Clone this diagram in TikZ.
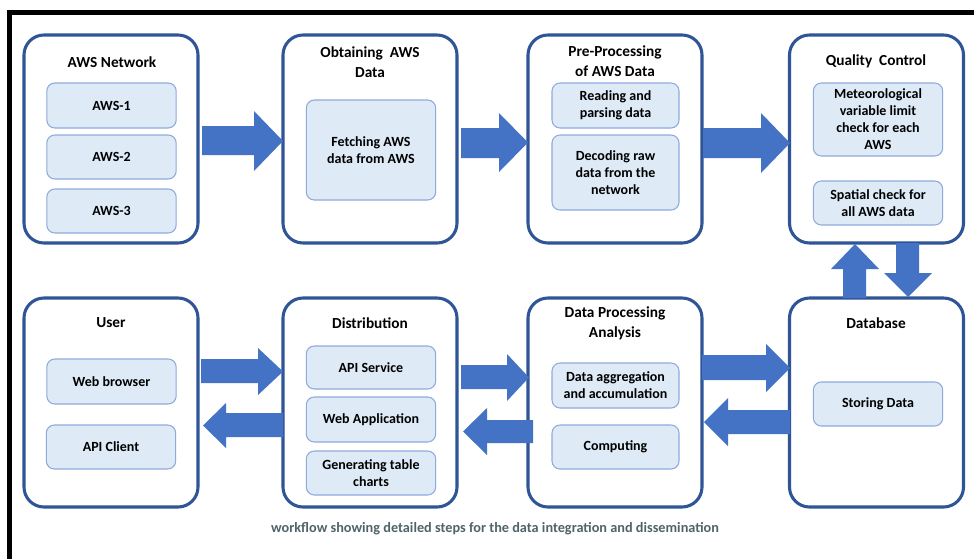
\documentclass[tikz,border=0pt]{standalone}
\usepackage{fontspec}
\setmainfont{Carlito}
\definecolor{outerblue}{HTML}{2F5597}
\definecolor{innerfill}{HTML}{DEEBF7}
\definecolor{innerline}{HTML}{8FAADC}
\definecolor{arrowblue}{HTML}{4472C4}
\definecolor{captioncol}{HTML}{506468}
\newcommand{\harrow}[7]{% tail x, tip x, head base x, shaft top, shaft bottom, head top, head bottom
  \fill[arrowblue] (#1,#4) -- (#3,#4) -- (#3,#6) -- (#2,{(#6+#7)/2}) -- (#3,#7) -- (#3,#5) -- (#1,#5) -- cycle;}
\newcommand{\varrow}[7]{% tail y, tip y, head base y, shaft left, shaft right, head left, head right
  \fill[arrowblue] (#4,#1) -- (#4,#3) -- (#6,#3) -- ({(#6+#7)/2},#2) -- (#7,#3) -- (#5,#3) -- (#5,#1) -- cycle;}
\begin{document}
\begin{tikzpicture}[x=0.75pt,y=-0.75pt,
  outerbox/.style={draw=outerblue,line width=2.3pt,rounded corners=15pt,fill=white,
    inner sep=0pt,minimum width=130.5pt,minimum height=156pt},
  innerbox/.style={draw=innerline,line width=0.8pt,rounded corners=6pt,fill=innerfill,
    inner sep=0pt,minimum width=97pt,align=center,
    font=\fontsize{10.5pt}{12.75pt}\selectfont\bfseries},
  titletext/.style={align=center,inner sep=0pt,font=\fontsize{11.5pt}{15pt}\selectfont\bfseries}]
\useasboundingbox (0,0) rectangle (974,558);
\fill[white] (0,0) rectangle (974,558);
% frame
\draw[line width=3.2pt,line cap=rect] (9.5,558) -- (9.5,12.5) -- (980,12.5);
% outer boxes row 1
\node[outerbox] (net) at (111,139) {};
\node[outerbox] (obt) at (370,139) {};
\node[outerbox] (pre) at (615,139) {};
\node[outerbox] (qc) at (876.5,139) {};
% outer boxes row 2
\node[outerbox,minimum height=156.75pt] (user) at (111,402.5) {};
\node[outerbox,minimum height=156.75pt] (dist) at (370,402.5) {};
\node[outerbox,minimum height=156.75pt] (dpa) at (615,402.5) {};
\node[outerbox,minimum height=156.75pt] (db) at (876.5,402.5) {};
% titles
\node[titletext] (tnet) at (112,62) {AWS Network};
\node[titletext] (tobt) at (370,62) {Obtaining\ \ AWS\\Data};
\node[titletext] (tpre) at (615,61) {Pre-Processing\\of AWS\ Data};
\node[titletext] (tqc) at (876,61) {Quality\ \ Control};
\node[titletext] (tuser) at (111,323) {User};
\node[titletext] (tdist) at (370,323) {Distribution};
\node[titletext] (tdpa) at (615,323) {Data\ Processing\\Analysis};
\node[titletext] (tdb) at (876,323) {Database};
% inner boxes
\node[innerbox,minimum height=33.75pt] (aws1) at (111.5,105.5) {AWS-1};
\node[innerbox,minimum height=33pt] (aws2) at (111.5,157) {AWS-2};
\node[innerbox,minimum height=33pt] (aws3) at (111.5,211) {AWS-3};
\node[innerbox,minimum height=75pt] (fetch) at (371,150) {Fetching AWS\\data from AWS};
\node[innerbox,minimum width=95.25pt,minimum height=33.75pt] (read) at (615.5,105.5) {Reading and\\parsing data};
\node[innerbox,minimum width=95.25pt,minimum height=56.25pt] (decode) at (615.5,172.5) {Decoding raw\\data from the\\network};
\node[innerbox,minimum height=54.75pt] (meteo) at (878,119.5) {Meteorological\\variable limit\\check for each\\AWS};
\node[innerbox,minimum height=33pt] (spatial) at (878,203) {Spatial check for\\all AWS data};
\node[innerbox,minimum height=33.75pt] (web) at (111.5,381.5) {Web browser};
\node[innerbox,minimum height=33pt] (apic) at (111,447) {API Client};
\node[innerbox,minimum height=32.25pt] (apis) at (371,367.5) {API Service};
\node[innerbox,minimum height=33.75pt] (webapp) at (371,419.5) {Web Application};
\node[innerbox,minimum height=33pt] (gen) at (371,473) {Generating table\\charts};
\node[innerbox,minimum width=95.25pt,minimum height=33.75pt] (agg) at (615.5,385.5) {Data aggregation\\and accumulation};
\node[innerbox,minimum width=95.25pt,minimum height=33pt] (comp) at (615.5,447) {Computing};
\node[innerbox,minimum height=33pt] (store) at (878,404) {Storing Data};
% arrows row 1
\harrow{202}{283}{254}{126}{155}{111}{171}
\harrow{461}{528}{499}{128}{158}{113}{172}
\harrow{703}{790}{761}{128}{158}{113}{173}
% vertical arrows
\varrow{298}{244}{269}{843}{866}{831}{879}
\varrow{243}{297}{273}{896}{919}{884}{932}
% arrows row 2
\harrow{201}{283}{258}{359}{383}{348}{395}
\harrow{283}{203}{226}{413}{437}{403}{448}
\harrow{461}{529}{507}{365}{389}{354}{401}
\harrow{533}{463}{487}{420}{443}{408}{455}
\harrow{702}{790}{766}{355}{380}{344}{392}
\harrow{790}{704}{728}{410}{434}{398}{446}
% caption
\node[text=captioncol,inner sep=0pt,font=\fontsize{10.7pt}{12pt}\selectfont\bfseries] (cap) at (495,529) {workflow showing detailed steps for the data integration and dissemination};
\end{tikzpicture}
\end{document}
